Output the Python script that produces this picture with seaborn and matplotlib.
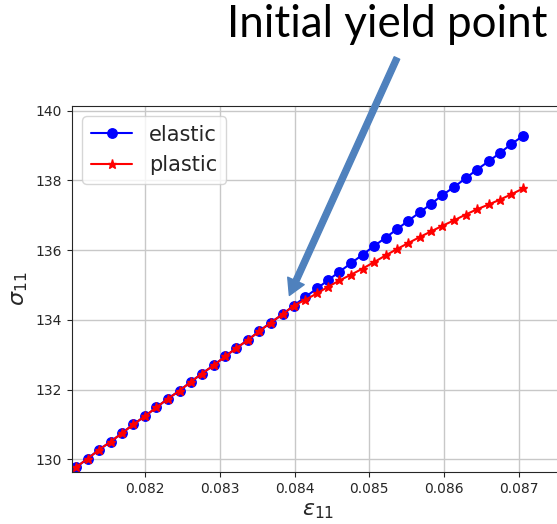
import matplotlib
matplotlib.use("Agg")
import matplotlib.pyplot as plt
import seaborn as sns

# strain values
strain = [0.08108, 0.08123, 0.08138, 0.08154, 0.08169, 0.08184, 0.08200, 0.08215,
          0.08230, 0.08246, 0.08261, 0.08276, 0.08292, 0.08307, 0.08322, 0.08338,
          0.08353, 0.08368, 0.08384, 0.08399, 0.08414, 0.08430, 0.08445, 0.08460,
          0.08476, 0.08491, 0.08506, 0.08522, 0.08537, 0.08552, 0.08568, 0.08583,
          0.08598, 0.08614, 0.08629, 0.08644, 0.08660, 0.08675, 0.08690, 0.08706]

# stress, elastic trial
stress_elastic = [129.78, 130.02, 130.27, 130.51, 130.75, 131.00, 131.24, 131.49,
                  131.73, 131.97, 132.22, 132.46, 132.70, 132.95, 133.19, 133.43,
                  133.68, 133.92, 134.16, 134.41, 134.65, 134.90, 135.14, 135.38,
                  135.63, 135.87, 136.11, 136.36, 136.60, 136.84, 137.09, 137.33,
                  137.58, 137.82, 138.06, 138.31, 138.55, 138.79, 139.04, 139.28]

# stress, plastic correction
stress_plastic = [129.78, 130.02, 130.27, 130.51, 130.75, 131.00, 131.24, 131.49,
                  131.73, 131.97, 132.22, 132.46, 132.70, 132.95, 133.19, 133.43,
                  133.68, 133.92, 134.16, 134.41, 134.57, 134.76, 134.95, 135.13,
                  135.30, 135.47, 135.65, 135.85, 136.03, 136.20, 136.38, 136.54,
                  136.70, 136.86, 137.02, 137.17, 137.31, 137.45, 137.60, 137.77]

x_ticks = [0.082, 0.083, 0.084, 0.085, 0.086, 0.087]
y_ticks = [130, 132, 134, 136, 138, 140]

sns.set_style("ticks")
plt.rcParams['font.family'] = ['DejaVu Sans']

fig = plt.figure(figsize=(5.57, 5.24), dpi=100)
ax = fig.add_axes([72 / 557, 52 / 524, 491.5 / 557, 366 / 524])

sns.lineplot(x=strain, y=stress_elastic, ax=ax, color='b', marker='o',
             markersize=6.8, markeredgecolor='b', markeredgewidth=1,
             linewidth=1.5, label='elastic')
sns.lineplot(x=strain, y=stress_plastic, ax=ax, color='r', marker='*',
             markersize=6.5, markeredgecolor='r', markeredgewidth=1,
             linewidth=1.5, label='plastic')

ax.set_xlim(0.08102, 0.0876)
ax.set_ylim(129.635, 140.135)
ax.set_xticks(x_ticks)
ax.set_xticklabels([f"{t:.3f}" for t in x_ticks])
ax.set_yticks(y_ticks)
ax.tick_params(labelsize=10)
ax.grid(True, color='#c8c8c8', linewidth=1)
ax.set_xlabel(r'$\varepsilon_{11}$', fontsize=16)
ax.set_ylabel(r'$\sigma_{11}$', fontsize=16)
ax.legend(loc='upper left', fontsize=15)

# callout added on top of the plot
fig.text(0.6957, 0.9294, 'Initial yield point', fontsize=31.6, family=['Lato', 'DejaVu Sans'],
         ha='center', va='baseline', color='black')
ax.annotate('', xy=(0.08393, 134.7), xycoords='data',
            xytext=(0.7127, 0.8893), textcoords='figure fraction',
            arrowprops=dict(color='#4F81BD', width=4.3, headwidth=13, headlength=11.5),
            annotation_clip=False)

fig.savefig('out.png', dpi=100)
